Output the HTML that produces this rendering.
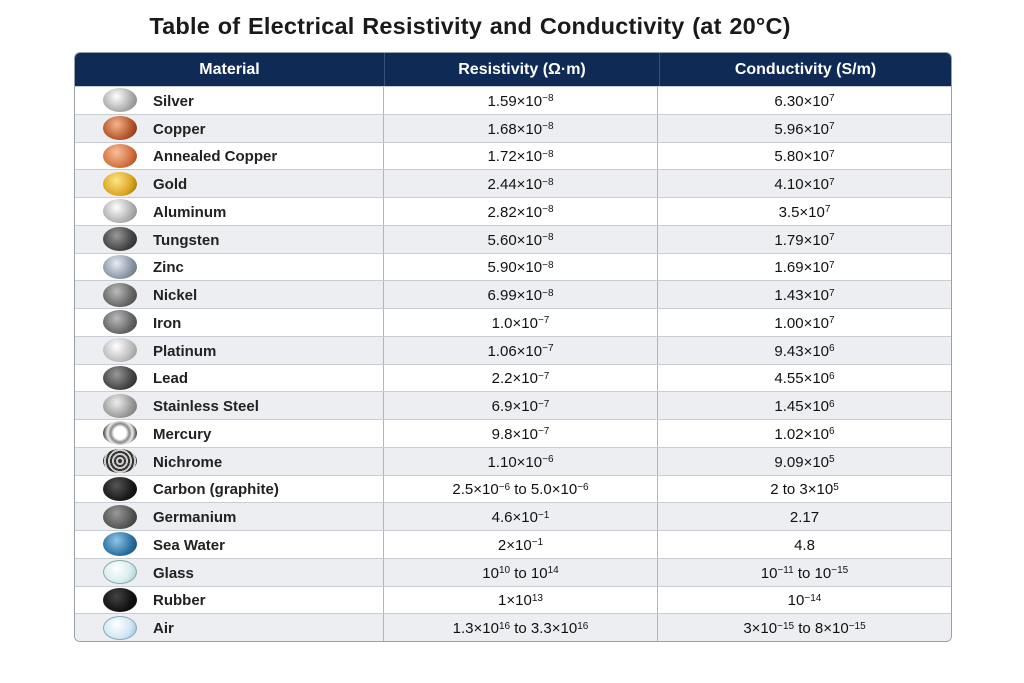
<!DOCTYPE html><html><head><meta charset="utf-8"><style>
body{margin:0;width:1024px;height:683px;background:#fff;font-family:"Liberation Sans",sans-serif;position:relative;overflow:hidden}
h1{position:absolute;left:0;width:940px;text-align:center;top:13px;margin:0;font-size:23.5px;font-weight:bold;color:#1a1a1a;letter-spacing:0.2px;word-spacing:1px}
.t{position:absolute;left:74px;top:52px;width:876px;border:1px solid #9aa0aa;border-radius:6px;overflow:hidden}
.h{height:33px;background:#0e2a55;color:#fff;display:flex;font-size:16px;font-weight:bold}
.h div,.r div{display:flex;align-items:center;justify-content:center}
.c1{width:309px;border-right:1px solid #b0b6c0}.c2{width:274px;border-right:1px solid #b0b6c0}.c3{flex:1}
.h .c1,.h .c2{border-right-color:#3a5078}
.r{height:27.75px;display:flex;font-size:15px;color:#111;border-top:1px solid #c8ccd3;box-sizing:border-box}
.r>div{padding-top:2px;box-sizing:border-box}
.r:nth-child(odd){background:#eceef2}
.r .c1{justify-content:flex-start!important;font-weight:bold;color:#222}
.b{width:34px;height:24px;border-radius:50%;margin:0 16px 0 28px;flex:none;box-sizing:border-box;position:relative;top:-1px}
sup{font-size:10px;line-height:0;position:relative;top:-2px;vertical-align:super}
</style></head><body>
<h1>Table of Electrical Resistivity and Conductivity (at 20°C)</h1>
<div class="t">
<div class="h"><div class="c1">Material</div><div class="c2">Resistivity (Ω·m)</div><div class="c3">Conductivity (S/m)</div></div>
<div class="r"><div class="c1"><span class="b" style="background:radial-gradient(circle at 40% 35%,#fff,#aaa 60%,#777)"></span>Silver</div><div class="c2">1.59×10<sup>−8</sup></div><div class="c3">6.30×10<sup>7</sup></div></div>
<div class="r"><div class="c1"><span class="b" style="background:radial-gradient(circle at 40% 35%,#f4b48a,#b5552a 60%,#6e2a10)"></span>Copper</div><div class="c2">1.68×10<sup>−8</sup></div><div class="c3">5.96×10<sup>7</sup></div></div>
<div class="r"><div class="c1"><span class="b" style="background:radial-gradient(circle at 40% 35%,#f8c09a,#d2703e 60%,#8a3a18)"></span>Annealed Copper</div><div class="c2">1.72×10<sup>−8</sup></div><div class="c3">5.80×10<sup>7</sup></div></div>
<div class="r"><div class="c1"><span class="b" style="background:radial-gradient(circle at 40% 35%,#ffe58a,#d9a520 60%,#8a6000)"></span>Gold</div><div class="c2">2.44×10<sup>−8</sup></div><div class="c3">4.10×10<sup>7</sup></div></div>
<div class="r"><div class="c1"><span class="b" style="background:radial-gradient(circle at 40% 35%,#fff,#b0b0b0 60%,#808080)"></span>Aluminum</div><div class="c2">2.82×10<sup>−8</sup></div><div class="c3">3.5×10<sup>7</sup></div></div>
<div class="r"><div class="c1"><span class="b" style="background:radial-gradient(circle at 40% 35%,#999,#444 60%,#222)"></span>Tungsten</div><div class="c2">5.60×10<sup>−8</sup></div><div class="c3">1.79×10<sup>7</sup></div></div>
<div class="r"><div class="c1"><span class="b" style="background:radial-gradient(circle at 40% 35%,#e6ecf2,#8a96a4 60%,#5a6470)"></span>Zinc</div><div class="c2">5.90×10<sup>−8</sup></div><div class="c3">1.69×10<sup>7</sup></div></div>
<div class="r"><div class="c1"><span class="b" style="background:radial-gradient(circle at 40% 35%,#bbb,#666 60%,#3a3a3a)"></span>Nickel</div><div class="c2">6.99×10<sup>−8</sup></div><div class="c3">1.43×10<sup>7</sup></div></div>
<div class="r"><div class="c1"><span class="b" style="background:radial-gradient(circle at 40% 35%,#bbb,#666 60%,#3a3a3a)"></span>Iron</div><div class="c2">1.0×10<sup>−7</sup></div><div class="c3">1.00×10<sup>7</sup></div></div>
<div class="r"><div class="c1"><span class="b" style="background:radial-gradient(circle at 40% 35%,#fff,#bbb 60%,#888)"></span>Platinum</div><div class="c2">1.06×10<sup>−7</sup></div><div class="c3">9.43×10<sup>6</sup></div></div>
<div class="r"><div class="c1"><span class="b" style="background:radial-gradient(circle at 40% 35%,#999,#444 60%,#222)"></span>Lead</div><div class="c2">2.2×10<sup>−7</sup></div><div class="c3">4.55×10<sup>6</sup></div></div>
<div class="r"><div class="c1"><span class="b" style="background:radial-gradient(circle at 40% 35%,#eee,#999 60%,#666)"></span>Stainless Steel</div><div class="c2">6.9×10<sup>−7</sup></div><div class="c3">1.45×10<sup>6</sup></div></div>
<div class="r"><div class="c1"><span class="b" style="background:radial-gradient(circle,#fff 30%,#888 45%,#eee 60%,#444 80%)"></span>Mercury</div><div class="c2">9.8×10<sup>−7</sup></div><div class="c3">1.02×10<sup>6</sup></div></div>
<div class="r"><div class="c1"><span class="b" style="background:repeating-radial-gradient(circle,#333 0 2px,#ccc 2px 4px)"></span>Nichrome</div><div class="c2">1.10×10<sup>−6</sup></div><div class="c3">9.09×10<sup>5</sup></div></div>
<div class="r"><div class="c1"><span class="b" style="background:radial-gradient(circle at 40% 35%,#555,#1a1a1a 60%,#000)"></span>Carbon (graphite)</div><div class="c2">2.5×10<sup>−6</sup>&nbsp;to 5.0×10<sup>−6</sup></div><div class="c3">2 to 3×10<sup>5</sup></div></div>
<div class="r"><div class="c1"><span class="b" style="background:radial-gradient(circle at 40% 35%,#999,#555 60%,#2a2a2a)"></span>Germanium</div><div class="c2">4.6×10<sup>−1</sup></div><div class="c3">2.17</div></div>
<div class="r"><div class="c1"><span class="b" style="background:radial-gradient(circle at 40% 35%,#8fc6e8,#2a6fa0 60%,#12406a)"></span>Sea Water</div><div class="c2">2×10<sup>−1</sup></div><div class="c3">4.8</div></div>
<div class="r"><div class="c1"><span class="b" style="background:radial-gradient(circle at 40% 35%,#fff,#d6ecec 60%,#9cbcbc);border:1px solid #8aa"></span>Glass</div><div class="c2">10<sup>10</sup>&nbsp;to 10<sup>14</sup></div><div class="c3">10<sup>−11</sup>&nbsp;to 10<sup>−15</sup></div></div>
<div class="r"><div class="c1"><span class="b" style="background:radial-gradient(circle at 40% 35%,#444,#111 60%,#000)"></span>Rubber</div><div class="c2">1×10<sup>13</sup></div><div class="c3">10<sup>−14</sup></div></div>
<div class="r"><div class="c1"><span class="b" style="background:radial-gradient(circle at 40% 35%,#fff,#cfe6f4 60%,#8ab4d0);border:1px solid #8ab"></span>Air</div><div class="c2">1.3×10<sup>16</sup>&nbsp;to 3.3×10<sup>16</sup></div><div class="c3">3×10<sup>−15</sup>&nbsp;to 8×10<sup>−15</sup></div></div>
</div>
</body></html>
